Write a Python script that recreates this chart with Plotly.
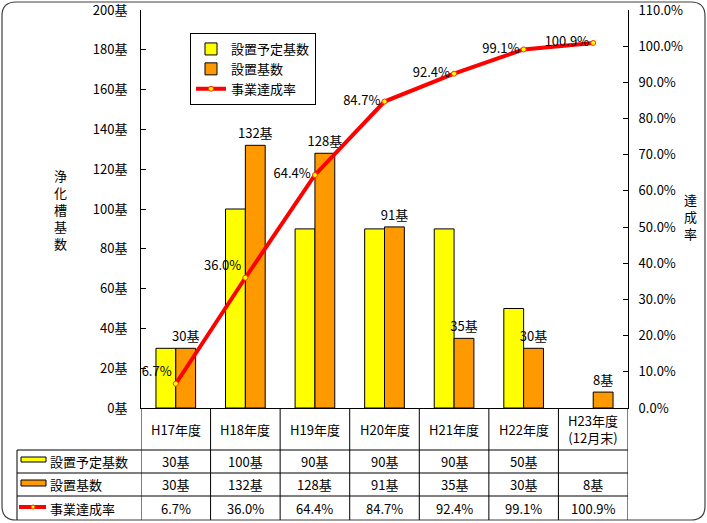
import plotly.graph_objects as go

categories = ["H17年度", "H18年度", "H19年度", "H20年度", "H21年度", "H22年度", "H23年度<br>(12月末)"]
planned = [30, 100, 90, 90, 90, 50, None]
installed = [30, 132, 128, 91, 35, 30, 8]
rate = [6.7, 36.0, 64.4, 84.7, 92.4, 99.1, 100.9]
rate_pos = ["top left", "top left", "middle left", "middle left", "middle left", "middle left", "middle left"]
series_names = ["設置予定基数", "設置基数", "事業達成率"]

FONT = "Noto Sans CJK JP"
W, H = 707, 523
L, R, T, B = 141, 628, 10, 408   # plot area in px
PW, PH = R - L, B - T

def px(x):
    return (x - L) / PW

def py(y):
    return (B - y) / PH

fig = go.Figure()
fig.add_trace(go.Bar(x=categories, y=planned, name=series_names[0],
                     marker=dict(color="#FFFF00", line=dict(color="black", width=1))))
fig.add_trace(go.Bar(x=categories, y=installed, name=series_names[1],
                     marker=dict(color="#FF9900", line=dict(color="black", width=1)),
                     text=[f"{v}基" for v in installed], texttemplate="%{text}",
                     textposition="outside", constraintext="none",
                     cliponaxis=False, textfont=dict(size=13, color="black")))
fig.add_trace(go.Scatter(x=categories, y=rate, name=series_names[2], yaxis="y2",
                         mode="lines+markers+text",
                         line=dict(color="#FF0000", width=4),
                         marker=dict(color="#FFFF00", size=5, line=dict(color="#FF3300", width=1)),
                         text=[f"{v:.1f}%" for v in rate], textposition=rate_pos,
                         textfont=dict(size=13, color="black"), cliponaxis=False))

shapes = []
annotations = []

# outer rounded border
x0, x1, y0, y1, r = 2, 705, 2, 520, 14
pts = [("M", x0 + r, y0), ("L", x1 - r, y0), ("Q", x1, y0, x1, y0 + r), ("L", x1, y1 - r),
       ("Q", x1, y1, x1 - r, y1), ("L", x0 + r, y1), ("Q", x0, y1, x0, y1 - r),
       ("L", x0, y0 + r), ("Q", x0, y0, x0 + r, y0)]
path = ""
for p in pts:
    cmd = p[0]
    coords = p[1:]
    seg = cmd
    for i in range(0, len(coords), 2):
        seg += f"{px(coords[i]):.5f},{py(coords[i+1]):.5f} "
    path += seg
path += "Z"
shapes.append(dict(type="path", xref="paper", yref="paper", path=path,
                   line=dict(color="#404040", width=1.2), layer="below"))

# table lines
row_y = [408, 450, 473, 496, 520]
for i in range(len(categories) + 1):
    shapes.append(dict(type="line", xref="x", yref="paper", x0=i - 0.5, x1=i - 0.5,
                       y0=py(408), y1=py(520), line=dict(color="black", width=1)))
shapes.append(dict(type="line", xref="paper", yref="paper", x0=px(17), x1=px(17),
                   y0=py(450), y1=py(520), line=dict(color="black", width=1)))
for yy in row_y[1:4]:
    shapes.append(dict(type="line", xref="paper", yref="paper", x0=px(17), x1=1,
                       y0=py(yy), y1=py(yy), line=dict(color="black", width=1)))

# table text
for i, c in enumerate(categories):
    annotations.append(dict(x=c, xref="x", y=py(429), yref="paper", text=c, showarrow=False,
                            font=dict(size=13), xanchor="center", yanchor="middle"))
    rows = [
        "" if planned[i] is None else f"{planned[i]}基",
        f"{installed[i]}基",
        f"{rate[i]:.1f}%",
    ]
    for j, t in enumerate(rows):
        yc = (row_y[j + 1] + row_y[j + 2]) / 2
        annotations.append(dict(x=c, xref="x", y=py(yc), yref="paper", text=t, showarrow=False,
                                font=dict(size=13), xanchor="center", yanchor="middle"))

# row headers with swatches
for j, name in enumerate(series_names):
    yc = (row_y[j + 1] + row_y[j + 2]) / 2
    annotations.append(dict(x=px(48), xref="paper", y=py(yc), yref="paper", text=name,
                            showarrow=False, font=dict(size=13), xanchor="left", yanchor="middle"))
shapes.append(dict(type="rect", xref="paper", yref="paper", x0=px(21), x1=px(46),
                   y0=py(457), y1=py(462), fillcolor="#FFFF00", line=dict(color="black", width=1)))
shapes.append(dict(type="rect", xref="paper", yref="paper", x0=px(21), x1=px(46),
                   y0=py(480), y1=py(486), fillcolor="#FF9900", line=dict(color="black", width=1)))
shapes.append(dict(type="line", xref="paper", yref="paper", x0=px(19), x1=px(46),
                   y0=py(507), y1=py(507), line=dict(color="#FF0000", width=4)))
shapes.append(dict(type="circle", xref="paper", yref="paper", x0=px(31), x1=px(35),
                   y0=py(505), y1=py(509), fillcolor="#FFFF00", line=dict(color="#FF3300", width=1)))

# axis titles
annotations.append(dict(x=px(60), xref="paper", y=py(210), yref="paper",
                        text="浄<br>化<br>槽<br>基<br>数", showarrow=False,
                        font=dict(size=13), xanchor="center", yanchor="middle"))
annotations.append(dict(x=px(690), xref="paper", y=py(216), yref="paper",
                        text="達<br>成<br>率", showarrow=False,
                        font=dict(size=13), xanchor="center", yanchor="middle"))

fig.update_layout(
    width=W, height=H,
    margin=dict(l=L, r=W - R, t=T, b=H - B, pad=0, autoexpand=False),
    paper_bgcolor="white", plot_bgcolor="white",
    font=dict(family=FONT, size=13, color="black"),
    barmode="group", bargap=0.43, bargroupgap=0,
    showlegend=True,
    legend=dict(x=px(190), y=py(33), xanchor="left", yanchor="top",
                bgcolor="white", bordercolor="black", borderwidth=1,
                font=dict(size=13), tracegroupgap=0, itemwidth=30),
    xaxis=dict(range=[-0.5, len(categories) - 0.5], showticklabels=False, ticks="",
               showline=True, linecolor="black", linewidth=1, showgrid=False,
               zeroline=False, automargin=False),
    yaxis=dict(range=[0, 200], dtick=20, ticks="inside", ticklen=5, tickcolor="black",
               ticksuffix="基", showline=True, linecolor="black", linewidth=1,
               showgrid=False, zeroline=False, ticklabelstandoff=10,
               ticklabeloverflow="allow", automargin=False),
    yaxis2=dict(range=[0, 110], dtick=10, overlaying="y", side="right", ticks="inside",
                ticklen=5, tickcolor="black", tickformat=".1f", ticksuffix="%",
                showline=True, linecolor="black", linewidth=1, showgrid=False,
                zeroline=False, ticklabelstandoff=7, ticklabeloverflow="allow",
                automargin=False),
    shapes=shapes, annotations=annotations,
)

fig.write_html("out.html")
